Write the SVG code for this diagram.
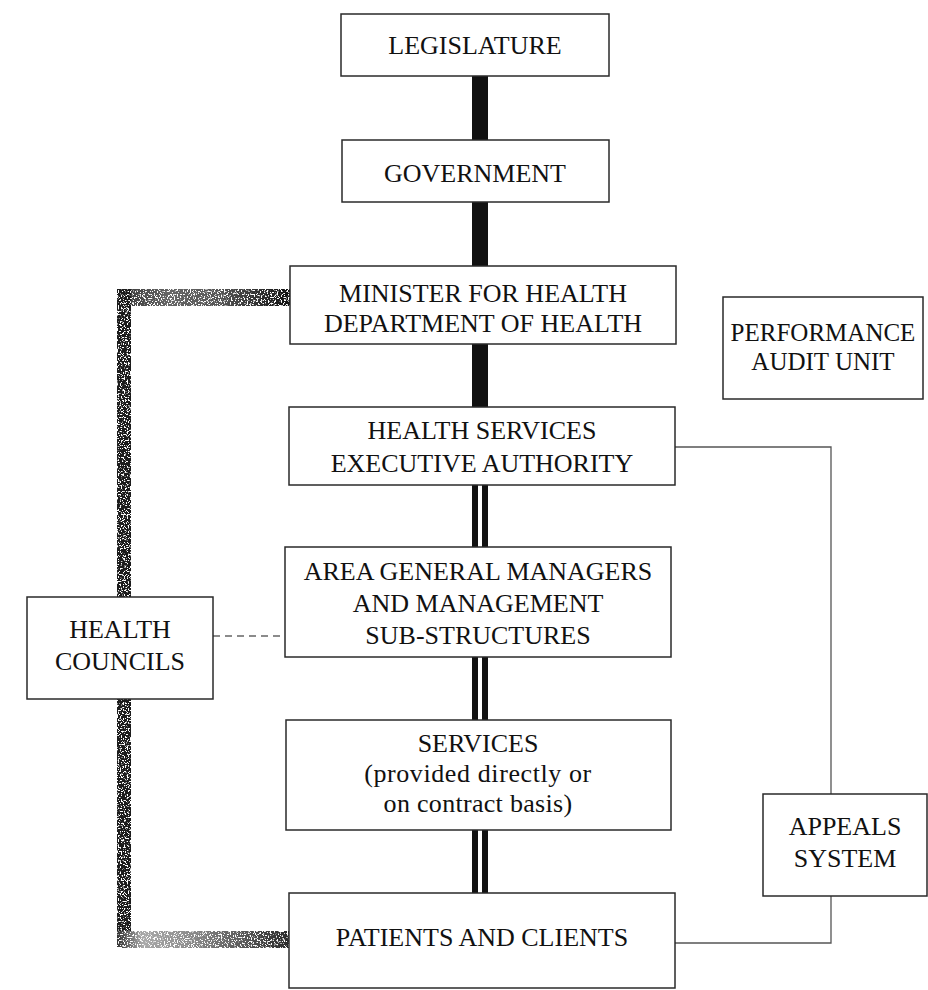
<svg xmlns="http://www.w3.org/2000/svg" width="928" height="990" viewBox="0 0 928 990">
  <style>
    .box { fill: #ffffff; stroke: #2a2a2a; stroke-width: 1.5; }
    .lbl { font-family: "Liberation Serif", "Times New Roman", serif; font-size: 26px; fill: #111111; text-anchor: middle; }
    .sm { font-size: 25px; }
    .thin { fill: none; stroke: #555555; stroke-width: 1.3; }
    .dash { fill: none; stroke: #666666; stroke-width: 1.3; stroke-dasharray: 7 5; }
    .solid { fill: #111111; }
  </style>
  <defs>
    <filter id="grain" x="0" y="0" width="100%" height="100%">
      <feTurbulence type="fractalNoise" baseFrequency="0.7" numOctaves="2" seed="3" result="n"/>
      <feColorMatrix in="n" type="matrix" values="0 0 0 0 0  0 0 0 0 0  0 0 0 0 0  0 0 0 -12 7.6" result="m"/>
      <feComposite in="SourceGraphic" in2="m" operator="in"/>
    </filter>
    <linearGradient id="gTop" x1="0" y1="0" x2="1" y2="0">
      <stop offset="0" stop-color="#333333"/>
      <stop offset="0.3" stop-color="#666666"/>
      <stop offset="0.6" stop-color="#555555"/>
      <stop offset="0.85" stop-color="#2a2a2a"/>
      <stop offset="1" stop-color="#111111"/>
    </linearGradient>
    <linearGradient id="gBot" x1="0" y1="0" x2="1" y2="0">
      <stop offset="0" stop-color="#333333"/>
      <stop offset="0.15" stop-color="#aaaaaa"/>
      <stop offset="0.45" stop-color="#888888"/>
      <stop offset="0.75" stop-color="#555555"/>
      <stop offset="1" stop-color="#2a2a2a"/>
    </linearGradient>
  </defs>

  <g id="connectors">
    <!-- thick black links -->
    <rect class="solid" x="472" y="76" width="16" height="64"/>
    <rect class="solid" x="472" y="202" width="16" height="64"/>
    <rect class="solid" x="472" y="344" width="16" height="63"/>
    <!-- double links -->
    <rect class="solid" x="472" y="485" width="6" height="62"/>
    <rect class="solid" x="482" y="485" width="6" height="62"/>
    <rect class="solid" x="472" y="657" width="6" height="63"/>
    <rect class="solid" x="482" y="657" width="6" height="63"/>
    <rect class="solid" x="472" y="830" width="6" height="63"/>
    <rect class="solid" x="482" y="830" width="6" height="63"/>
    <!-- grey textured health council loop -->
    <g filter="url(#grain)">
      <rect x="117" y="289" width="173" height="17" fill="url(#gTop)"/>
      <rect x="117" y="289" width="14" height="659" fill="#1e1e1e"/>
      <rect x="117" y="931" width="172" height="17" fill="url(#gBot)"/>
    </g>
    <!-- thin lines to appeals system -->
    <polyline class="thin" points="675,447 831,447 831,794"/>
    <polyline class="thin" points="831,896 831,943 675,943"/>
    <!-- dashed health councils to area managers -->
    <line class="dash" x1="213" y1="636" x2="285" y2="636"/>
  </g>

  <g id="legislature">
    <rect class="box" x="341" y="14" width="268" height="62"/>
    <text class="lbl" x="475" y="54">LEGISLATURE</text>
  </g>
  <g id="government">
    <rect class="box" x="342" y="140" width="267" height="62"/>
    <text class="lbl" x="475" y="182">GOVERNMENT</text>
  </g>
  <g id="minister">
    <rect class="box" x="290" y="266" width="386" height="78"/>
    <text class="lbl" x="483" y="302">MINISTER FOR HEALTH</text>
    <text class="lbl" x="483" y="332">DEPARTMENT OF HEALTH</text>
  </g>
  <g id="performance-audit">
    <rect class="box" x="723" y="297" width="200" height="102"/>
    <text class="lbl sm" x="823" y="341">PERFORMANCE</text>
    <text class="lbl sm" x="823" y="370">AUDIT UNIT</text>
  </g>
  <g id="health-services">
    <rect class="box" x="289" y="407" width="386" height="78"/>
    <text class="lbl" x="482" y="439">HEALTH SERVICES</text>
    <text class="lbl" x="482" y="472">EXECUTIVE AUTHORITY</text>
  </g>
  <g id="area-managers">
    <rect class="box" x="285" y="547" width="386" height="110"/>
    <text class="lbl" x="478" y="580">AREA GENERAL MANAGERS</text>
    <text class="lbl" x="478" y="612">AND MANAGEMENT</text>
    <text class="lbl" x="478" y="644">SUB-STRUCTURES</text>
  </g>
  <g id="health-councils">
    <rect class="box" x="27" y="597" width="186" height="102"/>
    <text class="lbl" x="120" y="638">HEALTH</text>
    <text class="lbl" x="120" y="670">COUNCILS</text>
  </g>
  <g id="services">
    <rect class="box" x="286" y="720" width="385" height="110"/>
    <text class="lbl" x="478" y="752">SERVICES</text>
    <text class="lbl" x="478" y="782" letter-spacing="0.6">(provided directly or</text>
    <text class="lbl" x="478" y="812" letter-spacing="0.3">on contract basis)</text>
  </g>
  <g id="appeals">
    <rect class="box" x="763" y="794" width="164" height="102"/>
    <text class="lbl" x="845" y="835">APPEALS</text>
    <text class="lbl" x="845" y="867">SYSTEM</text>
  </g>
  <g id="patients">
    <rect class="box" x="289" y="893" width="386" height="95"/>
    <text class="lbl" x="482" y="946">PATIENTS AND CLIENTS</text>
  </g>
</svg>
